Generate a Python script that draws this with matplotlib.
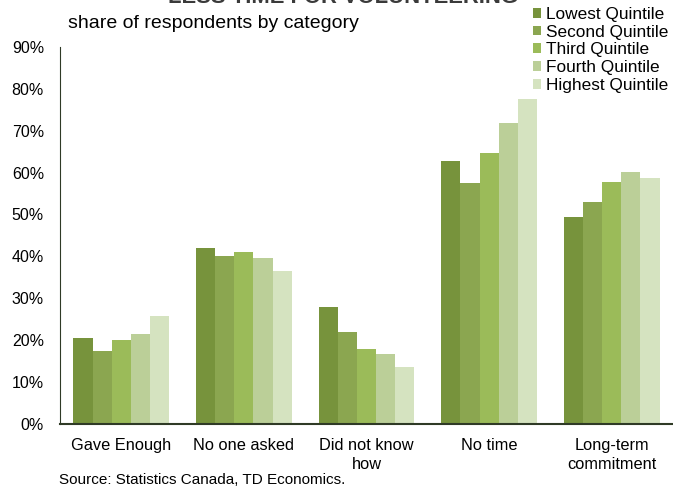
import matplotlib
matplotlib.use("Agg")
import matplotlib.pyplot as plt
import numpy as np

plt.rcParams['font.family'] = ['Liberation Sans', 'DejaVu Sans']

categories = ["Gave Enough", "No one asked", "Did not know\nhow", "No time", "Long-term\ncommitment"]
series_names = ["Lowest Quintile", "Second Quintile", "Third Quintile", "Fourth Quintile", "Highest Quintile"]
lowest = [20.5, 42.1, 28.0, 62.8, 49.5]
second = [17.5, 40.2, 22.0, 57.6, 53.0]
third = [20.0, 41.0, 18.0, 64.7, 57.8]
fourth = [21.5, 39.5, 16.8, 71.9, 60.2]
highest = [25.8, 36.5, 13.7, 77.6, 58.8]
colors = ["#77933C", "#8BA650", "#9BBB59", "#BBCF98", "#D5E3C0"]

values = [lowest, second, third, fourth, highest]

fig = plt.figure(figsize=(6.73, 4.91), dpi=100)
ax = fig.add_axes([0.089, 0.1365, 0.911, 0.768])

x = np.arange(len(categories))
w = 0.156
for i, (vals, name, c) in enumerate(zip(values, series_names, colors)):
    ax.bar(x + (i - 2) * w, vals, width=w, color=c, label=name)

ax.set_xlim(-0.5, len(categories) - 0.5)
ax.set_ylim(0, 90)
ax.set_yticks(range(0, 91, 10))
ax.set_yticklabels([f"{v}%" for v in range(0, 91, 10)], fontsize=11.5)
ax.set_xticks(x)
ax.set_xticklabels(categories, fontsize=11.8, linespacing=1.35)
ax.tick_params(axis='both', length=0)
ax.tick_params(axis='y', pad=11.5)
ax.tick_params(axis='x', pad=10)
ax.spines['top'].set_visible(False)
ax.spines['right'].set_visible(False)
ax.spines['left'].set_color('#2f3a26')
ax.spines['bottom'].set_color('#2f3a26')
ax.spines['bottom'].set_linewidth(1.5)

# title sits mostly above the top edge, as in the original
fig.text(0.51, 1 - 3 / 491, "LESS TIME FOR VOLUNTEERING", fontsize=15.8, fontweight='bold',
         ha='center', va='baseline', color='#3a3a3a')
fig.text(0.101, 1 - 24 / 491, "share of respondents by category", fontsize=14, va='center')
fig.text(0.087, 1 - 480 / 491, "Source: Statistics Canada, TD Economics.", fontsize=11, va='center')

fig.legend(loc='upper left', bbox_to_anchor=(0.781, 1.0), frameon=False, fontsize=12.4,
           handlelength=0.5, handleheight=0.5, handletextpad=0.3, labelspacing=0.16,
           borderaxespad=0)

fig.savefig("out.png", dpi=100)
